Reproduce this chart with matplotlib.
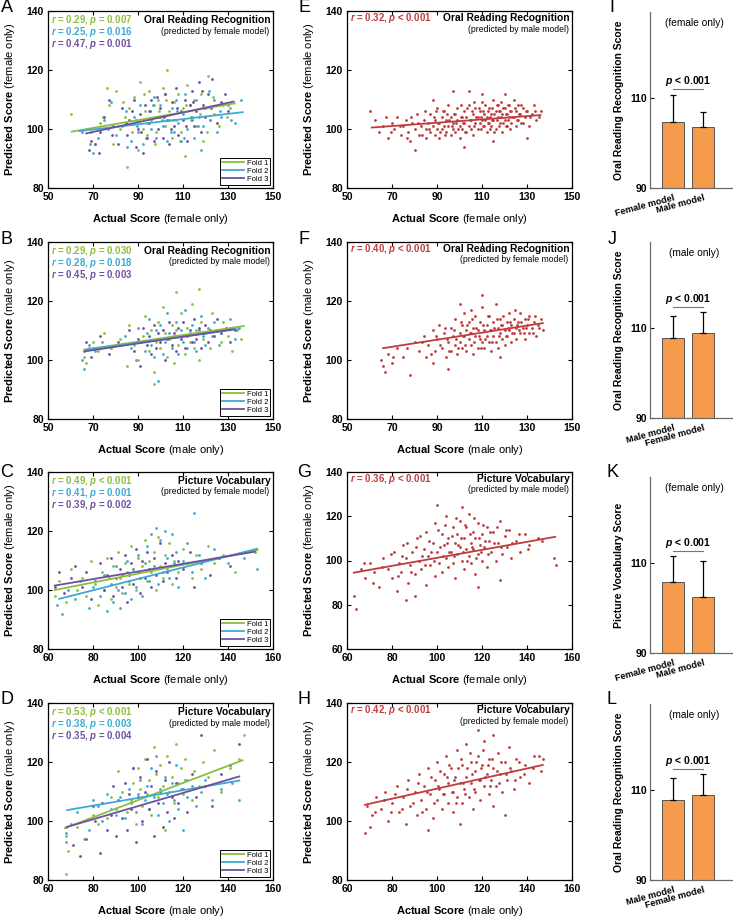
import matplotlib
matplotlib.use("Agg")
import matplotlib.pyplot as plt
from matplotlib.lines import Line2D

plt.rcParams['font.family'] = ['Liberation Sans', 'DejaVu Sans']
plt.rcParams['mathtext.fontset'] = 'custom'
plt.rcParams['mathtext.rm'] = 'Liberation Sans'
plt.rcParams['mathtext.bf'] = 'Liberation Sans:bold'
plt.rcParams['mathtext.it'] = 'Liberation Sans:italic'
plt.rcParams['mathtext.bfit'] = 'Liberation Sans:italic:bold'

GREEN = '#8cbe3c'
CYAN = '#3caad2'
PURPLE = '#6e50a0'
RED = '#be3c3c'
ORANGE = '#f59b4b'
FOLD_COLORS = [GREEN, CYAN, PURPLE]

# ---------------- panel A: female, oral reading, female model (3 folds)
a_fold1 = [(60,105),(69,99),(71,95),(73,102),(76,114),(77,108),(79,95),(80,113),(82,100),(84,104),
           (85,87),(86,107),(88,111),(89,103),(90,93),(91,116),(92,100),(93,106),(94,98),(95,113),
           (96,103),(97,108),(98,99),(99,110),(100,104),(101,114),(102,101),(103,120),(104,106),(105,97),
           (106,109),(107,103),(108,112),(109,99),(110,107),(111,91),(112,115),(114,104),(115,110),(116,101),
           (118,112),(119,96),(120,107),(121,118),(122,103),(124,105),(126,101),(128,108),(131,107),
           (74.5,104),(83.5,109),(87.5,99),(92.5,112),(97.5,95),(99.5,106),(102.5,110),(105.5,103),
           (108.5,96),(111.5,108),(113.5,103),(117.5,105),(120.5,99),(123.5,111),(129.5,104)]
a_fold2 = [(65,99),(70,92),(72,97),(75,103),(78,109),(80,98),(83,101),(85,94),(87,96),(88,104),
           (90,99),(91,108),(92,95),(94,102),(95,106),(96,100),(97,111),(98,97),(99,104),(100,108),
           (101,101),(102,112),(103,96),(104,103),(105,107),(106,99),(107,110),(108,102),(109,96),(110,105),
           (111,112),(112,100),(113,108),(114,103),(115,97),(116,110),(117,104),(118,93),(119,101),(120,107),
           (122,103),(124,110),(125,99),(127,104),(130,108),(133,102),(136,110),
           (68.5,95),(76.5,100),(84.5,106),(89.5,101),(93.5,97),(96.5,108),(100.5,103),(104.5,99),
           (107.5,106),(110.5,97),(113.5,104),(116.5,101),(121.5,113),(126.5,106),(131.5,103)]
a_fold3 = [(68,93),(69,96),(71,95),(73,99),(75,104),(77,110),(79,101),(81,95),(83,107),(85,98),
           (86,103),(88,110),(89,94),(90,100),(91,105),(92,92),(93,108),(94,97),(95,102),(96,110),
           (97,96),(98,104),(99,100),(100,107),(101,97),(102,112),(103,103),(104,95),(105,109),(106,101),
           (107,114),(108,98),(109,106),(110,103),(111,110),(112,96),(113,108),(114,113),(115,101),(116,106),
           (117,116),(118,99),(119,108),(120,104),(121,112),(123,117),(125,102),(127,109),(130,106),
           (72.5,92),(78.5,98),(84.5,102),(87.5,106),(91.5,99),(95.5,106),(98.5,111),(101.5,104),
           (104.5,100),(107.5,107),(111.5,101),(114.5,109),(118.5,113),(122.5,107),(128.5,112)]
a_fit_x = [[60.5, 133], [64, 136.5], [67, 132.5]]
a_fit_y = [[99.1, 108.7], [99.3, 105.7], [98.5, 109.3]]
a_stats = [("0.29", "= 0.007"), ("0.25", "= 0.016"), ("0.47", "= 0.001")]

# ---------------- panel B: male, oral reading, male model (3 folds)
b_fold1 = [(66,101),(67,99),(68,104),(70,106),(72,103),(75,109),(78,104),(82,107),(85,98),(86,112),
           (88,105),(90,100),(92,108),(93,115),(95,103),(96,110),(97,96),(98,106),(99,113),(100,104),
           (101,118),(102,109),(103,101),(104,107),(105,112),(106,99),(107,110),(108,105),(109,116),(110,108),
           (111,102),(112,111),(113,106),(114,119),(115,104),(116,110),(117,100),(118,113),(119,107),(120,109),
           (122,104),(123,116),(125,110),(127,106),(128,113),(130,108),(132,103),(134,110),(136,107),
           (97,92),(117,124),(107,123)]
b_fold2 = [(65,100),(66,97),(68,105),(71,103),(74,106),(80,105),(84,108),(87,104),(89,100),(90,111),
           (91,106),(93,103),(94,109),(95,114),(96,105),(97,101),(98,110),(99,107),(100,112),(101,102),
           (102,106),(103,116),(104,109),(105,104),(106,108),(107,113),(108,102),(109,110),(110,106),(111,117),
           (112,104),(113,109),(114,112),(115,106),(116,103),(117,110),(118,115),(119,108),(120,105),(121,111),
           (123,108),(124,113),(126,105),(128,110),(131,114),(133,107),(135,111),(99,93)]
b_fold3 = [(66,103),(67,106),(69,101),(70,104),(73,108),(77,102),(81,106),(86,110),(88,103),(90,107),
           (91,98),(92,111),(94,105),(95,108),(96,102),(97,112),(98,104),(99,109),(100,106),(101,110),
           (102,100),(103,107),(104,113),(105,105),(106,109),(107,103),(108,111),(109,107),(110,113),(111,104),
           (112,108),(113,110),(114,106),(115,114),(116,107),(117,111),(118,104),(119,109),(120,112),(121,106),
           (122,110),(124,108),(125,114),(127,109),(129,111),(131,106),(133,110)]
b_fit_x = [[66, 137], [67, 135], [67, 133]]
b_fit_y = [[103.5, 111.5], [103.5, 110.5], [103, 110.5]]
b_stats = [("0.29", "= 0.030"), ("0.28", "= 0.018"), ("0.45", "= 0.003")]

# ---------------- panel C: female, picture vocabulary, female model (3 folds)
c_fold1 = [(63,98),(65,103),(68,96),(70,107),(73,100),(75,104),(77,98),(79,110),(81,102),(82,95),
           (84,106),(85,100),(86,111),(87,104),(88,97),(89,108),(90,101),(91,113),(92,104),(93,99),
           (94,109),(95,106),(96,102),(97,115),(98,107),(99,100),(100,111),(101,104),(102,108),(103,117),
           (104,103),(105,110),(106,106),(107,113),(108,100),(109,118),(110,108),(111,104),(112,112),(113,107),
           (114,116),(115,102),(116,110),(118,106),(120,114),(122,109),(124,104),(126,112),(128,107),(131,115),
           (134,109),(138,112),(143,106),(152,113)]
c_fold2 = [(64,95),(66,92),(69,100),(72,97),(74,103),(78,94),(80,101),(83,98),(85,105),(86,93),
           (88,102),(89,96),(90,108),(91,100),(92,94),(93,105),(94,99),(95,110),(96,103),(97,97),
           (98,107),(99,101),(100,112),(101,104),(102,98),(103,109),(104,115),(105,103),(106,119),(107,108),
           (108,121),(109,102),(110,117),(111,106),(112,120),(113,111),(114,104),(115,119),(116,109),(117,113),
           (118,101),(120,110),(122,116),(124,106),(125,126),(127,112),(130,104),(134,114),(140,109),(147,111),
           (153,107)]
c_fold3 = [(63,101),(65,106),(67,99),(70,104),(72,108),(75,101),(77,106),(79,97),(81,103),(83,109),
           (85,100),(86,105),(88,111),(89,98),(90,104),(92,107),(93,101),(94,112),(95,96),(96,105),
           (97,109),(98,102),(99,114),(100,106),(101,99),(102,110),(103,104),(104,113),(105,107),(106,101),
           (107,111),(108,105),(110,116),(111,103),(112,109),(113,106),(115,112),(117,104),(118,110),(120,107),
           (123,113),(125,101),(128,109),(132,105),(136,111),(141,108)]
c_fit_x = [[63, 153], [65, 153], [63, 152]]
c_fit_y = [[100, 113.5], [97, 114], [101.5, 113]]
c_stats = [("0.49", "< 0.001"), ("0.41", "= 0.001"), ("0.39", "= 0.002")]

# ---------------- panel D: male, picture vocabulary, male model (3 folds)
d_fold1 = [(68,82),(68,95),(69,90),(73,98),(76,94),(80,102),(82,99),(84,106),(86,101),(88,108),
           (90,104),(91,117),(93,110),(95,103),(97,107),(98,113),(99,99),(100,118),(101,111),(102,105),
           (103,121),(104,109),(105,114),(106,102),(107,125),(108,116),(109,108),(110,119),(111,112),(112,97),
           (113,122),(114,110),(115,115),(116,106),(117,126),(118,113),(119,118),(120,109),(121,121),(122,114),
           (124,107),(125,117),(127,112),(129,120),(131,115),(134,124),(137,110),(141,118),(145,121),(147,129)]
d_fold2 = [(68,93),(68,96),(70,99),(73,103),(78,97),(80,107),(82,105),(84,100),(86,109),(88,104),
           (90,102),(92,108),(94,101),(96,111),(97,106),(98,118),(99,103),(100,109),(101,114),(102,99),
           (103,107),(104,112),(105,104),(106,118),(107,108),(108,122),(109,102),(110,111),(111,106),(112,115),
           (113,109),(114,100),(115,113),(116,107),(117,119),(118,104),(119,111),(120,97),(121,114),(122,108),
           (124,112),(126,105),(128,110),(130,114),(133,107),(137,111),(142,113),(145,107)]
d_fold3 = [(68,98),(71,92),(74,88),(77,94),(80,105),(81,100),(83,89),(84,106),(86,97),(88,102),
           (89,112),(90,95),(91,107),(93,101),(94,113),(95,97),(96,109),(97,104),(98,118),(99,93),
           (100,108),(101,115),(102,100),(103,110),(104,121),(105,104),(106,112),(107,95),(108,117),(109,106),
           (110,110),(111,98),(112,114),(113,103),(114,120),(115,108),(116,101),(117,113),(118,106),(120,111),
           (122,103),(124,116),(126,108),(128,129),(130,112),(133,105),(137,116),(141,119),(145,126)]
d_fit_x = [[67.5, 146.5], [68.5, 145], [68.5, 145]]
d_fit_y = [[97.6, 120.6], [103.7, 113.7], [98, 115.1]]
d_stats = [("0.53", "< 0.001"), ("0.38", "= 0.003"), ("0.35", "= 0.004")]

# ---------------- panel E: female, oral reading, male model
e_pts = [(60,106),(64,99),(66,101),(68,97),(70,102),(71,100),(72,104),(74,98),(75,101),(76,103),
         (77,99),(78,96),(79,102),(80,100),(81,105),(82,98),(83,101),(84,103),(85,97),(85,100),
         (86,102),(87,99),(87,105),(88,101),(89,98),(89,103),(90,100),(90,107),(91,102),(91,97),
         (92,104),(92,100),(93,101),(93,106),(94,99),(94,103),(95,101),(95,108),(96,98),(96,104),
         (97,102),(97,100),(98,105),(98,99),(99,103),(99,107),(100,101),(100,97),(101,104),(101,100),
         (102,106),(102,102),(103,99),(103,104),(104,101),(104,108),(105,103),(105,100),(106,105),(106,98),
         (107,102),(107,107),(108,104),(108,100),(109,106),(109,102),(110,103),(110,109),(111,101),(111,105),
         (112,104),(112,99),(113,107),(113,102),(114,105),(114,101),(115,103),(115,110),(116,106),(116,100),
         (117,104),(117,108),(118,102),(118,106),(119,105),(119,99),(120,107),(120,103),(121,101),(121,105),
         (122,108),(122,104),(123,102),(123,106),(124,104),(124,110),(125,101),(125,106),(126,103),(126,108),
         (127,105),(128,102),(128,107),(129,104),(130,106),(131,101),(132,105),(133,108),(134,103),(136,106),
         (97,113),(104,113),(88,110),(110,112),(120,112),(80,93),(102,94),(115,96),(130,97),
         (62.5,103),(67.5,104),(69.5,99),(73.5,101),(76.5,97),(78.5,104),(81.5,102),(83.5,98),(84.5,106),
         (86.5,100),(88.5,104),(89.5,106),(90.5,102),(91.5,99),(92.5,106),(93.5,98),(94.5,105),(95.5,103),
         (96.5,101),(97.5,105),(98.5,102),(99.5,100),(100.5,104),(100.5,108),(101.5,102),(102.5,99),
         (103.5,107),(104.5,103),(105.5,106),(106.5,101),(106.5,109),(107.5,104),(108.5,107),(109.5,100),
         (109.5,104),(110.5,101),(110.5,106),(111.5,103),(111.5,108),(112.5,102),(112.5,106),(113.5,104),
         (113.5,100),(114.5,107),(114.5,103),(115.5,105),(115.5,99),(116.5,103),(116.5,108),(117.5,101),
         (117.5,106),(118.5,104),(118.5,109),(119.5,102),(119.5,107),(120.5,105),(120.5,101),(121.5,103),
         (121.5,108),(122.5,106),(122.5,100),(123.5,104),(124.5,107),(125.5,103),(126.5,105),(127.5,102),
         (127.5,108),(129.5,106),(131.5,104),(133.5,106),(135.5,104)]
e_fit_x = [61, 136]
e_fit_y = [100.5, 104.7]

# ---------------- panel F: male, oral reading, female model
f_pts = [(65,100),(66,98),(67,96),(68,102),(70,99),(72,104),(75,101),(78,95),(80,106),(82,103),
         (84,108),(85,101),(86,105),(88,110),(89,103),(90,107),(91,112),(92,104),(93,109),(94,101),
         (95,106),(96,111),(96,103),(97,108),(98,105),(98,114),(99,102),(100,109),(100,106),(101,112),
         (101,104),(102,108),(102,116),(103,103),(103,110),(104,107),(104,113),(105,105),(105,109),(106,111),
         (106,102),(107,108),(107,115),(108,104),(108,110),(109,113),(109,107),(110,106),(110,118),(111,110),
         (111,104),(112,112),(112,108),(113,106),(113,115),(114,110),(114,103),(115,113),(115,108),(116,106),
         (116,119),(117,111),(117,104),(118,109),(118,114),(119,107),(119,112),(120,110),(120,105),(121,113),
         (121,108),(122,116),(122,110),(123,106),(123,112),(124,109),(124,114),(125,111),(125,107),(126,113),
         (127,109),(127,116),(128,111),(129,107),(129,114),(130,112),(131,109),(131,115),(132,111),(133,113),
         (134,108),(135,112),(136,114),(137,110),(110,122),(100,119),(105,117),(95,97),(88,99),(118,101),
         (70.5,101),(76.5,104),(83.5,106),(87.5,102),(89.5,108),(91.5,105),(93.5,111),(94.5,107),(95.5,103),
         (97.5,110),(98.5,107),(99.5,104),(100.5,113),(101.5,108),(102.5,105),(103.5,112),(104.5,109),
         (105.5,114),(106.5,106),(107.5,111),(108.5,108),(109.5,104),(110.5,112),(111.5,107),(112.5,115),
         (113.5,110),(114.5,106),(115.5,111),(116.5,114),(117.5,108),(118.5,112),(119.5,115),(120.5,108),
         (121.5,111),(122.5,113),(123.5,109),(124.5,117),(125.5,112),(126.5,110),(127.5,113),(128.5,109),
         (129.5,111),(130.5,114),(132.5,109),(133.5,115),(135.5,111)]
f_fit_x = [66, 137]
f_fit_y = [104, 112.5]

# ---------------- panel G: female, picture vocabulary, male model
g_pts = [(63,84),(64,78),(66,96),(68,92),(70,99),(72,95),(74,88),(76,101),(78,96),(80,92),
         (81,104),(82,86),(83,99),(84,95),(85,107),(86,101),(87,90),(88,98),(89,104),(90,94),
         (91,110),(92,100),(93,96),(94,105),(95,89),(95,113),(96,102),(97,98),(98,108),(99,93),
         (99,117),(100,104),(101,99),(102,112),(102,95),(103,107),(104,101),(104,120),(105,97),(105,110),
         (106,104),(107,115),(107,99),(108,108),(108,92),(109,112),(109,103),(110,118),(110,106),(111,100),
         (111,124),(112,110),(112,96),(113,105),(113,115),(114,102),(114,121),(115,108),(115,99),(116,113),
         (116,105),(117,110),(117,94),(118,117),(118,103),(119,107),(120,112),(120,100),(121,106),(122,115),
         (122,97),(123,109),(124,104),(125,113),(126,100),(127,108),(128,118),(129,103),(130,111),(131,106),
         (132,114),(133,101),(135,109),(137,104),(139,112),(141,107),(145,110),(152,101),(153,98),(100,125),
         (90,84),(86,82),(118,88),(128,91),
         (67.5,99),(71.5,90),(75.5,97),(79.5,103),(82.5,93),(84.5,102),(86.5,108),(88.5,95),(90.5,106),
         (92.5,111),(93.5,102),(94.5,98),(96.5,109),(97.5,104),(98.5,100),(100.5,114),(101.5,106),
         (102.5,102),(103.5,116),(104.5,108),(105.5,104),(106.5,111),(107.5,102),(108.5,119),(109.5,107),
         (110.5,110),(111.5,104),(112.5,116),(113.5,100),(114.5,112),(115.5,106),(116.5,119),(117.5,101),
         (118.5,110),(119.5,104),(120.5,116),(121.5,109),(122.5,103),(123.5,113),(125.5,108),(126.5,115),
         (128.5,106),(130.5,114),(133.5,108),(136.5,112),(140.5,105),(146.5,109)]
g_fit_x = [63, 152.5]
g_fit_y = [94.5, 110.7]

# ---------------- panel H: male, picture vocabulary, female model
h_pts = [(68,96),(69,105),(70,98),(71,102),(73,108),(75,104),(77,110),(78,100),(80,106),(82,112),
         (83,103),(85,108),(86,99),(87,114),(88,105),(90,110),(91,102),(92,116),(93,107),(94,112),
         (95,104),(96,118),(97,109),(98,101),(99,114),(100,107),(100,120),(101,111),(102,104),(103,116),
         (103,109),(104,122),(105,113),(105,106),(106,118),(107,110),(107,103),(108,115),(109,124),(109,108),
         (110,113),(111,106),(111,119),(112,111),(113,126),(113,115),(114,108),(115,120),(115,113),(116,104),
         (117,117),(117,110),(118,122),(119,114),(119,107),(120,119),(121,112),(121,127),(122,116),(123,109),
         (123,121),(124,114),(125,118),(125,105),(126,112),(127,123),(128,116),(129,110),(130,120),(131,114),
         (132,125),(133,117),(134,111),(135,121),(137,115),(139,119),(141,113),(143,122),(146,117),(147,121),
         (118,131),(125,129),(96,97),(110,99),(130,102),
         (72.5,103),(76.5,107),(79.5,103),(81.5,109),(84.5,104),(86.5,111),(89.5,106),(91.5,113),(93.5,103),
         (95.5,110),(97.5,115),(98.5,106),(100.5,112),(101.5,117),(102.5,109),(104.5,115),(105.5,119),
         (106.5,110),(107.5,114),(108.5,106),(109.5,118),(110.5,121),(111.5,113),(112.5,109),(113.5,118),
         (114.5,123),(115.5,116),(116.5,111),(117.5,120),(118.5,114),(119.5,118),(120.5,124),(121.5,115),
         (122.5,119),(123.5,112),(124.5,121),(126.5,117),(127.5,113),(128.5,120),(130.5,116),(132.5,118),
         (134.5,114),(136.5,120),(138.5,116),(142.5,118),(145.5,122)]
h_fit_x = [68, 147]
h_fit_y = [105.5, 119]

# ---------------- bar panels I-L
i_labels = ["Female model", "Male model"]
i_means = [104.6, 103.5]
i_tops = [110.7, 106.8]
j_labels = ["Male model", "Female model"]
j_means = [107.7, 108.8]
j_tops = [112.7, 113.5]
k_labels = ["Female model", "Male model"]
k_means = [105.8, 102.5]
k_tops = [111.4, 110.4]
l_labels = ["Male model", "Female model"]
l_means = [107.8, 108.8]
l_tops = [112.6, 113.5]
p_line = [111.9, 114.7, 112.6, 114.6]


W, H = 733, 917
fig = plt.figure(figsize=(W / 100, H / 100), dpi=100)


def px_axes(left, top, width, height):
    return fig.add_axes([left / W, 1 - (top + height) / H, width / W, height / H])


def bold_ticks(ax, size=7.5):
    for lbl in ax.get_xticklabels() + ax.get_yticklabels():
        lbl.set_fontweight('bold')
        lbl.set_fontsize(size)


def stat_text(r, p):
    return r"$\mathbfit{r}$ = " + r + r", $\mathbfit{p}$ " + p


def scatter_panel(ax, series, fits_x, fits_y, colors, stats, xlim, xticks, ylim, yticks,
                  title, subtitle, group, legend, text_top):
    for pts, col in zip(series, colors):
        ax.scatter([p[0] for p in pts], [p[1] for p in pts], s=4, c=col, linewidths=0, zorder=2)
    for fx, fy, col in zip(fits_x, fits_y, colors):
        ax.plot(fx, fy, color=col, lw=1.3, zorder=3)
    ax.set_xlim(xlim)
    ax.set_ylim(ylim)
    ax.set_xticks(xticks)
    ax.set_yticks(yticks)
    ax.tick_params(direction='in', top=True, right=True, length=3, width=0.8, pad=3)
    for s in ax.spines.values():
        s.set_linewidth(0.9)
    bold_ticks(ax)
    ax.set_xlabel(r"$\mathbf{Actual\ Score}$ (" + group + " only)", fontsize=8, labelpad=7)
    ax.set_ylabel(r"$\mathbf{Predicted\ Score}$ (" + group + " only)", fontsize=8, labelpad=7)
    h = 177.0
    for k, ((r, p), col) in enumerate(zip(stats, colors)):
        ax.text(0.012, 1 - (text_top + 12 * k) / h, stat_text(r, p), transform=ax.transAxes,
                color=col, fontsize=6.9, fontweight='bold', va='center', ha='left')
    ax.text(0.99, 1 - text_top / h, title, transform=ax.transAxes, fontsize=7.4,
            fontweight='bold', va='center', ha='right')
    ax.text(0.985, 1 - (text_top + 11) / h, subtitle, transform=ax.transAxes, fontsize=6.2,
            va='center', ha='right')
    if legend:
        handles = [Line2D([], [], color=c, lw=1.3) for c in colors]
        leg = ax.legend(handles, ["Fold 1", "Fold 2", "Fold 3"], loc='lower right', fontsize=5.5,
                        fancybox=False, edgecolor='black', framealpha=1, borderpad=0.25,
                        labelspacing=0.1, handlelength=2.8, handletextpad=0.4, borderaxespad=0.4)
        leg.get_frame().set_linewidth(0.7)


def bar_panel(ax, labels, means, tops, ylabel, note, pline):
    xs = [1, 2]
    errs = [t - m for t, m in zip(tops, means)]
    ax.bar(xs, means, width=0.73, color=ORANGE, edgecolor='#555555', linewidth=0.7, zorder=2)
    ax.errorbar(xs, means, yerr=[[0, 0], errs], fmt='none', ecolor='black', elinewidth=0.9,
                capsize=2.5, capthick=0.9, zorder=3)
    ax.set_xlim(0.23, 3.0)
    ax.set_ylim(90, 129)
    ax.set_yticks([90, 110])
    ax.set_xticks(xs)
    ax.set_xticklabels(labels, rotation=15, ha='right', rotation_mode='anchor')
    ax.tick_params(axis='y', direction='in', length=3, width=0.8, pad=2, colors='black')
    ax.tick_params(axis='x', length=0, pad=4)
    for lbl in ax.get_xticklabels():
        lbl.set_fontweight('bold')
        lbl.set_fontsize(6.6)
    for lbl in ax.get_yticklabels():
        lbl.set_fontweight('bold')
        lbl.set_fontsize(7.5)
    for side in ['top', 'right']:
        ax.spines[side].set_visible(False)
    for side in ['left', 'bottom']:
        ax.spines[side].set_color('#6a6a6a')
        ax.spines[side].set_linewidth(0.9)
    ax.set_ylabel(ylabel, fontsize=7.5, fontweight='bold')
    ax.yaxis.set_label_coords(-0.31, 0.5)
    ax.plot(xs, [pline, pline], color='#777777', lw=0.8, zorder=3)
    ax.text(1.5, pline + 0.2, r"$\mathbfit{p}$ < 0.001", fontsize=7.5, fontweight='bold',
            ha='center', va='bottom')
    ax.text(0.53, 0.94, note, transform=ax.transAxes, fontsize=7.3, ha='center', va='center')


row_tops = [11, 242, 472, 703]
bar_tops = [12, 242, 477, 704]
c1, c2, c3 = 48, 347, 650

ax = px_axes(c1, row_tops[0], 225, 177)
scatter_panel(ax, [a_fold1, a_fold2, a_fold3], a_fit_x, a_fit_y, FOLD_COLORS, a_stats,
              (50, 150), range(50, 151, 20), (80, 140), range(80, 141, 20),
              "Oral Reading Recognition", "(predicted by female model)", "female", True, 9)
ax = px_axes(c1, row_tops[1], 225, 177)
scatter_panel(ax, [b_fold1, b_fold2, b_fold3], b_fit_x, b_fit_y, FOLD_COLORS, b_stats,
              (50, 150), range(50, 151, 20), (80, 140), range(80, 141, 20),
              "Oral Reading Recognition", "(predicted by male model)", "male", True, 9)
ax = px_axes(c1, row_tops[2], 225, 177)
scatter_panel(ax, [c_fold1, c_fold2, c_fold3], c_fit_x, c_fit_y, FOLD_COLORS, c_stats,
              (60, 160), range(60, 161, 20), (80, 140), range(80, 141, 20),
              "Picture Vocabulary", "(predicted by female model)", "female", True, 9)
ax = px_axes(c1, row_tops[3], 225, 177)
scatter_panel(ax, [d_fold1, d_fold2, d_fold3], d_fit_x, d_fit_y, FOLD_COLORS, d_stats,
              (60, 160), range(60, 161, 20), (80, 140), range(80, 141, 20),
              "Picture Vocabulary", "(predicted by male model)", "male", True, 9)

ax = px_axes(c2, row_tops[0], 225, 177)
scatter_panel(ax, [e_pts], [e_fit_x], [e_fit_y], [RED], [("0.32", "< 0.001")],
              (50, 150), range(50, 151, 20), (80, 140), range(80, 141, 20),
              "Oral Reading Recognition", "(predicted by male model)", "female", False, 7)
ax = px_axes(c2, row_tops[1], 225, 177)
scatter_panel(ax, [f_pts], [f_fit_x], [f_fit_y], [RED], [("0.40", "< 0.001")],
              (50, 150), range(50, 151, 20), (80, 140), range(80, 141, 20),
              "Oral Reading Recognition", "(predicted by female model)", "male", False, 7)
ax = px_axes(c2, row_tops[2], 225, 177)
scatter_panel(ax, [g_pts], [g_fit_x], [g_fit_y], [RED], [("0.36", "< 0.001")],
              (60, 160), range(60, 161, 20), (60, 140), range(60, 141, 20),
              "Picture Vocabulary", "(predicted by male model)", "female", False, 7)
ax = px_axes(c2, row_tops[3], 225, 177)
scatter_panel(ax, [h_pts], [h_fit_x], [h_fit_y], [RED], [("0.42", "< 0.001")],
              (60, 160), range(60, 161, 20), (80, 140), range(80, 141, 20),
              "Picture Vocabulary", "(predicted by female model)", "male", False, 7)

ax = px_axes(c3, bar_tops[0], 83, 176)
bar_panel(ax, i_labels, i_means, i_tops, "Oral Reading Recognition Score", "(female only)", p_line[0])
ax = px_axes(c3, bar_tops[1], 83, 176)
bar_panel(ax, j_labels, j_means, j_tops, "Oral Reading Recognition Score", "(male only)", p_line[1])
ax = px_axes(c3, bar_tops[2], 83, 176)
bar_panel(ax, k_labels, k_means, k_tops, "Picture Vocabulary Score", "(female only)", p_line[2])
ax = px_axes(c3, bar_tops[3], 83, 176)
bar_panel(ax, l_labels, l_means, l_tops, "Oral Reading Recognition Score", "(male only)", p_line[3])

letter_y = [8, 240, 472, 700]
for col_x, letters in [(7, "ABCD"), (304, "EFGH"), (612, "IJKL")]:
    for y, ch in zip(letter_y, letters):
        fig.text(col_x / W, 1 - y / H, ch, fontsize=13, ha='center', va='center')

fig.savefig('out.png', dpi=100)
